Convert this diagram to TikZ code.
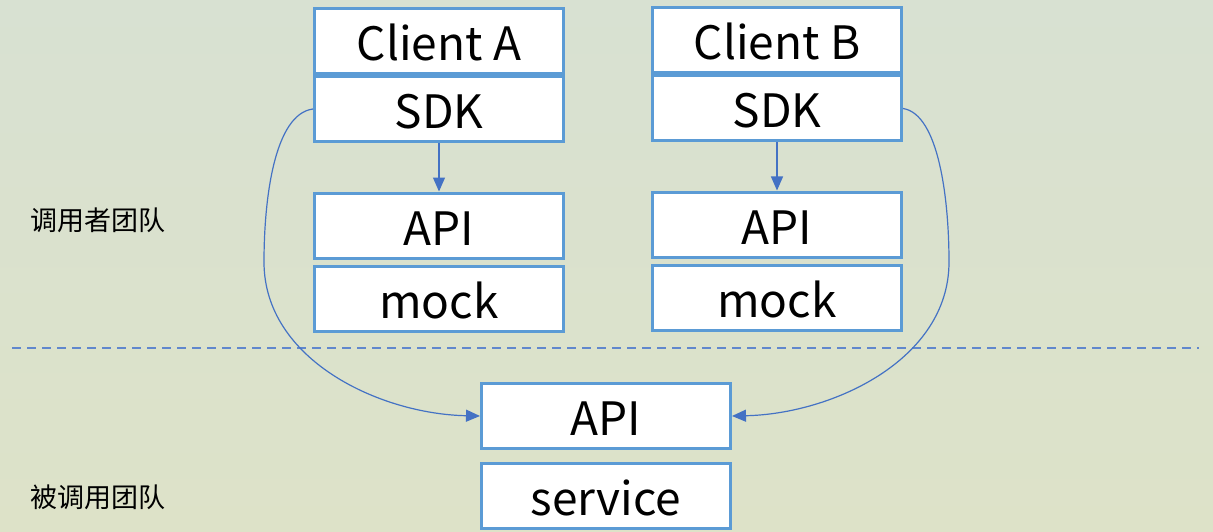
\documentclass[tikz,border=0pt]{standalone}
\usepackage{fontspec}
\setmainfont{Noto Sans CJK SC}
\usetikzlibrary{arrows.meta}
\definecolor{boxline}{RGB}{91,155,213}
\definecolor{conn}{RGB}{68,114,196}
\definecolor{bgtop}{RGB}{216,225,210}
\definecolor{bgbot}{RGB}{221,226,200}
\tikzset{
  layer/.style={draw=boxline, line width=3pt, fill=white, rectangle,
    minimum width=249pt, minimum height=65pt, inner sep=0pt,
    text height=44pt, text depth=5pt,
    font=\fontsize{46}{50}\selectfont, text=black},
  team/.style={font=\fontsize{27}{30}\selectfont, text=black, inner sep=0pt},
  link/.style={draw=conn, line width=1.2pt,
    -{Triangle[width=12pt,length=14pt]}},
  divider/.style={draw=conn!85!white, line width=1.2pt, dash pattern=on 9pt off 6pt}
}
\begin{document}
\begin{tikzpicture}[x=1pt, y=-1pt]
  % canvas
  \shade[top color=bgtop, bottom color=bgbot] (0,0) rectangle (1213,532);
  \useasboundingbox (0,0) rectangle (1213,532);

  % caller side, client A
  \node[layer] (clientA) at (439,41.5) {Client A};
  \node[layer] (sdkA)    at (439,109)  {SDK};
  \node[layer] (apiA)    at (439,225.5){API};
  \node[layer] (mockA)   at (439,298.5){mock};

  % caller side, client B
  \node[layer] (clientB) at (777,40.5) {Client B};
  \node[layer] (sdkB)    at (777,108.5){SDK};
  \node[layer] (apiB)    at (777,224.5){API};
  \node[layer] (mockB)   at (777,297.5){mock};

  % callee side
  \node[layer] (api)     at (606,416)  {API};
  \node[layer] (service) at (606,496)  {service};

  % team labels
  \node[team] (callers) at (98,220) {调用者团队};
  \node[team] (callees) at (98,497) {被调用团队};

  % boundary between the two teams
  \coordinate (divL) at (12,348);
  \coordinate (divR) at (1199,348);
  \draw[divider] (divL) -- (divR);

  % SDK calls its local API
  \draw[link] (sdkA.south) -- (apiA.north);
  \draw[link] (sdkB.south) -- (apiB.north);

  % SDK calls the real API
  \coordinate (bendL) at (264,262);
  \coordinate (bendR) at (949,262);
  \draw[link] (sdkA.west) .. controls (274,114) and (264,200) .. (bendL)
                          .. controls (264,360) and (380,414) .. (api.west);
  \draw[link] (sdkB.east) .. controls (939,114) and (949,200) .. (bendR)
                          .. controls (949,360) and (832,414) .. (api.east);
\end{tikzpicture}
\end{document}
